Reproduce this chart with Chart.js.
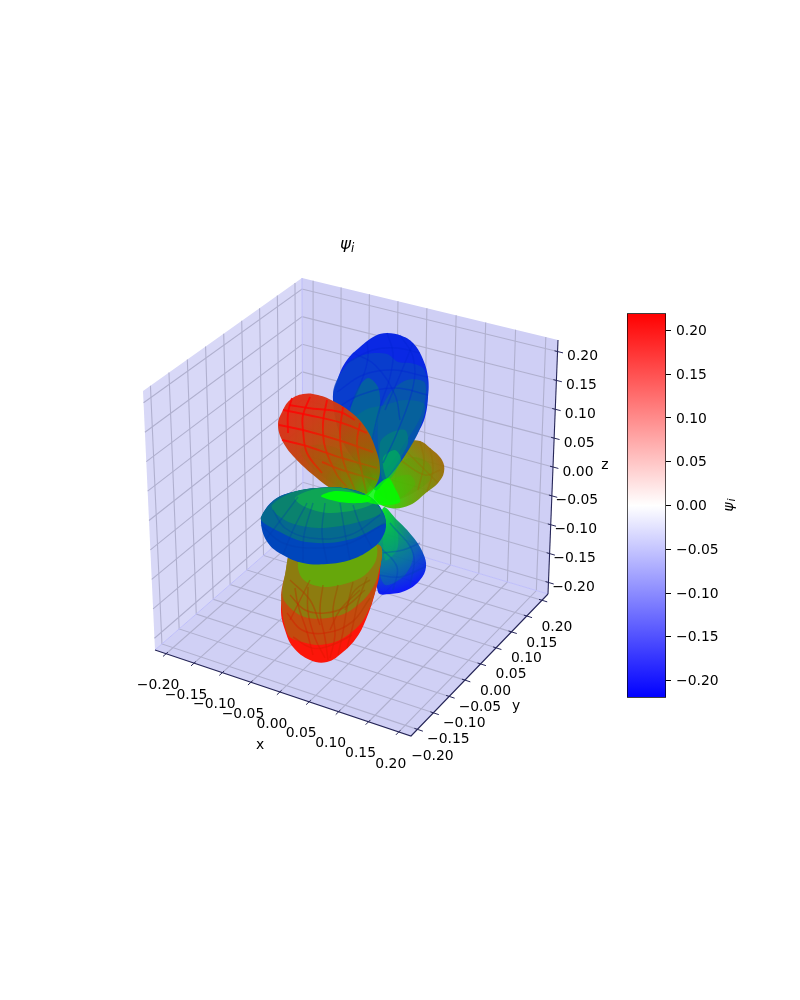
<!DOCTYPE html>
<html>
<head>
<meta charset="utf-8">
<title>psi</title>
<script src="https://cdn.jsdelivr.net/npm/chart.js@4"></script>
<style>
    html, body { margin: 0; padding: 0; background: #fff; }
    #wrap { position: relative; width: 800px; height: 1000px; overflow: hidden; }
    #plot { position: absolute; left: 0; top: 0; }
    #cbar { position: absolute; left: 627px; top: 300px; }
</style>
</head>
<body>
<div id="wrap">
    <canvas id="plot" width="800" height="1000"></canvas>
    <canvas id="cbar" width="120" height="411"></canvas>
</div>
<script>
// ticks of the three axes and of the colorbar
const xTicks = [-0.2, -0.15, -0.1, -0.05, 0, 0.05, 0.1, 0.15, 0.2];
const yTicks = [-0.2, -0.15, -0.1, -0.05, 0, 0.05, 0.1, 0.15, 0.2];
const zTicks = [-0.2, -0.15, -0.1, -0.05, 0, 0.05, 0.1, 0.15, 0.2];
const cbarTicks = [-0.2, -0.15, -0.1, -0.05, 0, 0.05, 0.1, 0.15, 0.2];
const axisLimit = 0.22;
const cbarLimit = 0.2194;

// lobe outlines (figure plane, 800 x 1000)
const blueTopOutline = [[375,490],[358,465],[342,440],[333,400],[338,378],[347,360],[360,347],[375,336],[387,333],[402,336],[413,343],[422,357],[428,377],[428,397],[425,417],[418,433],[410,447],[397,467],[383,483],[375,490]];
const blueTopBands = [
    [[333,393],[348,363],[367,354],[387,354],[398,362],[410,363],[423,368],[428,385],[427,403],[420,427],[405,455],[383,483],[375,490],[345,440],[333,393]],
    [[345,430],[365,410],[385,405],[405,400],[425,405],[418,433],[405,455],[383,483],[375,490],[358,465],[345,430]],
    [[350,417],[357,390],[368,378],[378,387],[380,407],[373,440],[365,470],[350,417]],
    [[378,420],[390,393],[407,380],[425,383],[422,413],[407,440],[383,470],[378,420]],
    [[380,443],[390,433],[405,430],[408,443],[397,463],[383,480],[380,443]],
    [[383,458],[395,450],[401,460],[388,480],[383,458]]
];
const blueTopMesh = [
    [[337,392],[363,375],[393,370],[427,377]],
    [[347,363],[373,350],[397,348],[420,353]],
    [[334,410],[360,395],[395,388],[428,395]],
    [[387,333],[393,353],[390,377],[380,407],[372,440]],
    [[400,335],[413,357],[413,387],[397,433],[383,463]],
    [[367,342],[368,357],[363,377],[350,407]],
    [[353,353],[375,365],[395,395],[400,420]],
    [[413,343],[400,375],[385,410]]
];

const oliveOutline = [[375,492],[395,455],[408,442],[420,441],[430,448],[442,460],[444,472],[438,483],[427,492],[410,505],[390,508],[375,500],[375,492]];
const oliveBands = [
    [[375,492],[395,465],[415,457],[430,465],[430,480],[405,497],[380,503],[375,492]],
    [[378,493],[395,478],[410,475],[415,485],[395,500],[378,493]]
];
const oliveMesh = [
    [[420,441],[424,462],[418,490]],
    [[430,448],[433,470],[427,492]],
    [[405,450],[438,483]],
    [[400,460],[425,475],[440,470]]
];

const redTopOutline = [[278,425],[282,412],[290,400],[303,394],[318,395],[335,402],[352,413],[365,427],[375,447],[380,470],[375,487],[365,497],[352,497],[332,489],[312,474],[295,458],[283,442],[278,425]];
const redTopBands = [
    [[300,450],[325,445],[350,455],[372,475],[365,492],[340,487],[315,470],[300,450]]
];
const redTopMesh = [
    [[289,405],[308,408],[340,412],[355,420]],
    [[283,410],[308,415],[342,423],[367,433]],
    [[279,425],[303,430],[338,440],[373,452]],
    [[282,440],[303,445],[342,458],[377,468]],
    [[322,462],[342,470],[377,480]],
    [[292,398],[288,413],[288,433]],
    [[310,397],[303,415],[303,430],[307,453],[322,473]],
    [[327,400],[323,423],[325,447],[337,475],[347,487]],
    [[343,407],[340,433],[343,460],[355,490]],
    [[360,423],[357,443],[362,473],[367,495]]
];

const blueLowOutline = [[383,508],[397,520],[413,537],[423,553],[426,567],[420,580],[407,590],[390,594],[378,592],[377,547],[383,508]];
const blueLowBands = [
    [[383,520],[400,530],[413,555],[405,575],[385,585],[378,560],[383,520]],
    [[385,510],[397,530],[397,550],[385,560],[385,510]]
];
const blueLowMesh = [
    [[380,547],[397,567],[393,590]],
    [[390,523],[413,553],[410,587]],
    [[383,553],[403,550],[420,543]],
    [[378,575],[400,577],[425,567]]
];

const redLowOutline = [[378,548],[380,570],[375,593],[367,617],[357,637],[343,652],[327,662],[310,660],[293,647],[285,630],[281,610],[285,583],[292,562],[330,540],[378,548]];
const redLowBands = [
    [[285,575],[281,598],[288,635],[302,642],[318,645],[335,642],[348,635],[362,622],[372,602],[378,578],[379,545],[295,545],[285,575]],
    [[285,575],[283,598],[295,612],[308,618],[328,618],[348,612],[368,595],[378,575],[379,545],[295,545],[285,575]],
    [[298,562],[300,575],[308,583],[325,587],[348,583],[365,575],[376,560],[375,545],[305,545],[298,562]]
];
const redLowMesh = [
    [[295,588],[298,605],[307,632],[313,655]],
    [[308,587],[308,612],[315,638],[325,658]],
    [[323,585],[320,612],[325,638],[328,660]],
    [[338,585],[333,610],[335,635],[330,658]],
    [[353,582],[347,608],[343,632],[338,655]],
    [[367,577],[358,602],[353,625],[347,648]],
    [[290,595],[305,610],[325,613],[345,607],[365,590]],
    [[287,613],[302,630],[325,633],[352,622],[370,598]],
    [[293,637],[312,648],[332,645],[352,635]],
    [[290,580],[310,600],[320,625]],
    [[360,590],[340,610],[330,630]],
    [[310,580],[300,600],[290,620]],
    [[370,580],[355,590],[345,610]]
];

const diskOutline = [[261,523],[265,510],[277,498],[293,492],[317,488],[343,488],[367,495],[380,507],[386,523],[382,538],[370,550],[350,560],[327,564],[303,563],[283,555],[268,543],[261,523]];
const diskBands = [
    [[261,520],[278,531],[301,541],[328,543],[355,538],[381,525],[386,523],[380,507],[367,495],[343,488],[317,488],[293,492],[277,498],[265,510],[261,520]],
    [[272,505],[275,513],[291,523],[318,528],[351,524],[381,513],[375,502],[367,495],[343,488],[317,488],[293,492],[272,505]],
    [[295,498],[305,507],[328,513],[355,510],[373,503],[361,495],[341,488],[315,489],[295,498]],
    [[321,496],[331,500],[348,503],[368,502],[371,498],[355,493],[335,491],[321,496]]
];
const diskMesh = [
    [[261,525],[283,543],[317,548],[350,543],[385,523]],
    [[273,510],[285,528],[310,538],[350,535],[380,515]],
    [[283,555],[293,530],[307,503]],
    [[303,562],[304,535],[313,503]],
    [[327,563],[322,533],[325,503]],
    [[350,560],[345,533],[340,503]],
    [[372,548],[360,525],[353,505]],
    [[267,538],[283,517],[298,497]]
];

const centerGlow = [[362,498],[372,490],[388,478],[395,488],[400,502],[385,505],[370,503],[362,498]];

// where the corners of the 3d box sit in the figure, [x index][y index][z index]
const boxCorners = [
    [[[155,650], [143,391]], [[303,521], [302,278]]],
    [[[411,736], [425,470]], [[548,594], [558,340]]]
];
// foreshortening along each axis
const warpX = 1.05;
const warpY = 0.97;
const warpZ = 1;

const L = axisLimit;

function warp(v, q) {
    const s = (v + L) / (2 * L);
    return s / (s + q * (1 - s));
}

function project(x, y, z) {
    const s = warp(x, warpX);
    const t = warp(y, warpY);
    const r = warp(z, warpZ);
    const out = { x: 0, y: 0 };
    [0, 1].forEach(i => [0, 1].forEach(j => [0, 1].forEach(k => {
        const f = (i ? s : 1 - s) * (j ? t : 1 - t) * (k ? r : 1 - r);
        out.x += f * boxCorners[i][j][k][0];
        out.y += f * boxCorners[i][j][k][1];
    })));
    return out;
}

const datasets = [];

function addLine(points, color, width, tension) {
    datasets.push({
        data: points, showLine: true, pointRadius: 0, borderColor: color,
        borderWidth: width, fill: false, tension: tension || 0, clip: false
    });
}

function addShape(points, color, tension) {
    datasets.push({
        data: points, showLine: true, pointRadius: 0, borderWidth: 0, borderColor: 'transparent',
        backgroundColor: color, fill: 'shape', tension: tension, clip: false
    });
}

const toXY = pts => pts.map(p => ({ x: p[0], y: p[1] }));
// run a loop past its ends so the curve has no corner at the seam
const closed = pts => toXY([pts[pts.length - 2], ...pts, pts[1]]);

const plotCanvas = document.getElementById('plot');
const plotCtx = plotCanvas.getContext('2d');

function radial(cx, cy, r, stops, alpha) {
    const g = plotCtx.createRadialGradient(cx, cy, 0, cx, cy, r);
    stops.forEach((s, i) => g.addColorStop(i / (stops.length - 1), `rgba(${s[0]},${s[1]},${s[2]},${alpha})`));
    return g;
}

function addLobe(outline, fillColor, bands, bandColors, mesh, meshColor, meshWidth) {
    addShape(closed(outline), fillColor, 0.4);
    bands.forEach((s, i) => addShape(closed(s), bandColors[i], 0.3));
    mesh.forEach(m => addLine(toXY(m), meshColor, meshWidth, 0.4));
}

// panes
addShape([project(-L,-L,-L), project(-L,L,-L), project(-L,L,L), project(-L,-L,L)], 'rgb(216,216,247)', 0);
addShape([project(-L,L,-L), project(L,L,-L), project(L,L,L), project(-L,L,L)], 'rgb(207,207,245)', 0);
addShape([project(-L,-L,-L), project(L,-L,-L), project(L,L,-L), project(-L,L,-L)], 'rgb(208,208,245)', 0);

// grid on the panes
const gridColor = 'rgb(176,176,207)';
xTicks.forEach(t => {
    addLine([project(t,-L,-L), project(t,L,-L), project(t,L,L)], gridColor, 1.1);
});
yTicks.forEach(t => {
    addLine([project(L,t,-L), project(-L,t,-L), project(-L,t,L)], gridColor, 1.1);
});
zTicks.forEach(t => {
    addLine([project(-L,-L,t), project(-L,L,t), project(L,L,t)], gridColor, 1.1);
});

// pane seams
const seam = 'rgb(190,190,250)';
addLine([project(-L,-L,-L), project(-L,L,-L), project(L,L,-L)], seam, 1);
addLine([project(-L,L,-L), project(-L,L,L)], seam, 1);

// lobes, back to front
addLobe(oliveOutline,
    radial(372, 497, 150, [[0,255,0],[90,170,0],[150,110,0],[215,50,0],[255,5,0]], 0.93),
    oliveBands, ['rgba(90,160,0,0.3)', 'rgba(60,200,0,0.3)'],
    oliveMesh, 'rgba(150,110,0,0.4)', 1.5);
addLobe(blueLowOutline,
    radial(375, 510, 86, [[0,255,0],[0,150,100],[0,85,180],[0,10,250]], 0.93),
    blueLowBands, ['rgba(0,190,80,0.22)', 'rgba(0,210,70,0.3)'],
    blueLowMesh, 'rgba(0,60,190,0.35)', 1.5);
addLobe(blueTopOutline, 'rgb(10,40,228)',
    blueTopBands, ['rgba(8,70,195,0.7)', 'rgba(5,100,150,0.6)', 'rgba(0,130,120,0.5)', 'rgba(5,110,140,0.5)', 'rgba(0,140,110,0.5)', 'rgba(0,190,80,0.55)'],
    blueTopMesh, 'rgba(0,35,210,0.35)', 1.4);
addLobe(redLowOutline, 'rgb(252,22,10)',
    redLowBands, ['rgba(190,80,15,0.92)', 'rgba(135,130,15,0.9)', 'rgba(95,175,10,0.85)'],
    redLowMesh, radial(345, 540, 125, [[80,140,0],[125,105,0],[165,70,0],[205,35,0],[235,15,0]], 0.5), 1.6);
addLobe(redTopOutline, radial(372, 497, 128, [[40,200,0],[120,130,0],[165,90,5],[190,70,12],[208,55,20],[228,40,20]], 0.97),
    redTopBands, ['rgba(130,110,0,0.15)'],
    redTopMesh, radial(372, 497, 128, [[100,150,0],[170,90,0],[225,40,0],[255,5,0],[255,0,0]], 0.8), 1.9);
addLobe(diskOutline, 'rgb(0,70,188)',
    diskBands, ['rgb(5,105,142)', 'rgb(10,130,110)', 'rgb(15,165,85)', 'rgb(0,250,10)'],
    diskMesh, 'rgba(0,60,175,0.32)', 1.5);
addShape(closed(centerGlow), 'rgba(0,255,0,0.8)', 0.3);

// axis edges and ticks
const edgeColor = 'rgb(38,38,88)';
addLine([project(-L,-L,-L), project(L,-L,-L), project(L,L,-L)], edgeColor, 1.1);
addLine([project(L,L,-L), project(L,L,L)], edgeColor, 1.1);
xTicks.forEach(t => addLine([project(t,-L + 0.005,-L), project(t,-L - 0.009,-L)], edgeColor, 1));
yTicks.forEach(t => addLine([project(L - 0.005,t,-L), project(L + 0.009,t,-L)], edgeColor, 1));
zTicks.forEach(t => addLine([project(L - 0.005,L,t), project(L + 0.009,L,t)], edgeColor, 1));

// Chart.js paints the first dataset last
datasets.reverse();

function fmt(v) {
    return (v < 0 ? '\u2212' : '') + Math.abs(v).toFixed(2);
}

const textPlugin = {
    id: 'boxText',
    afterDraw(chart) {
        const c = chart.ctx;
        const sx = chart.scales.x;
        const sy = chart.scales.y;
        c.save();
        c.fillStyle = '#000';
        c.textAlign = 'center';
        c.textBaseline = 'middle';
        c.font = '13.9px "DejaVu Sans"';
        const put = (txt, p, dx, dy) => c.fillText(txt, sx.getPixelForValue(p.x) + dx, sy.getPixelForValue(p.y) + dy);
        xTicks.forEach(t => put(fmt(t), project(t, -L, -L), -8, 32));
        yTicks.forEach(t => put(fmt(t), project(L, t, -L), 15, 27));
        zTicks.forEach(t => put(fmt(t), project(L, L, t), 25, 5));
        put('x', { x: 260, y: 745 }, 0, 0);
        put('y', { x: 516, y: 706 }, 0, 0);
        put('z', { x: 605, y: 465 }, 0, 0);

        // title
        c.textAlign = 'left';
        c.font = 'italic 16.7px "DejaVu Sans"';
        c.fillText('\u03c8', sx.getPixelForValue(340), sy.getPixelForValue(245));
        c.font = 'italic 11.7px "DejaVu Sans"';
        c.fillText('i', sx.getPixelForValue(351), sy.getPixelForValue(249));

        // colorbar label
        c.translate(sx.getPixelForValue(729), sy.getPixelForValue(505));
        c.rotate(-Math.PI / 2);
        c.textAlign = 'center';
        c.font = 'italic 13.9px "DejaVu Sans"';
        c.fillText('\u03c8', -2, 0);
        c.font = 'italic 9.7px "DejaVu Sans"';
        c.fillText('i', 5, 3);
        c.restore();
    }
};

new Chart(plotCtx, {
    type: 'scatter',
    data: { datasets: datasets },
    plugins: [textPlugin],
    options: {
        responsive: false,
        animation: false,
        layout: { padding: 0 },
        plugins: { legend: { display: false }, tooltip: { enabled: false } },
        scales: {
            x: { type: 'linear', min: 0, max: 800, display: false },
            y: { type: 'linear', min: 0, max: 1000, reverse: true, display: false }
        }
    }
});

// colorbar
const cbarCanvas = document.getElementById('cbar');
const cbarCtx = cbarCanvas.getContext('2d');
const cbarFill = cbarCtx.createLinearGradient(0, 398, 0, 13);
cbarFill.addColorStop(0, 'rgb(0,0,255)');
cbarFill.addColorStop(0.5, 'rgb(255,255,255)');
cbarFill.addColorStop(1, 'rgb(255,0,0)');

new Chart(cbarCtx, {
    type: 'bar',
    data: {
        labels: ['psi'],
        datasets: [{
            data: [[-cbarLimit, cbarLimit]],
            backgroundColor: cbarFill,
            borderColor: '#000',
            borderWidth: 1,
            borderSkipped: false,
            barPercentage: 1,
            categoryPercentage: 1
        }]
    },
    options: {
        responsive: false,
        animation: false,
        layout: { padding: { top: 13, bottom: 13, left: 0, right: 0 } },
        plugins: { legend: { display: false }, tooltip: { enabled: false } },
        scales: {
            x: { display: false },
            y: {
                position: 'right',
                min: -cbarLimit,
                max: cbarLimit,
                afterBuildTicks: axis => { axis.ticks = cbarTicks.map(v => ({ value: v })); },
                afterFit: axis => { axis.width = 81; },
                grid: { drawOnChartArea: false, drawTicks: true, tickLength: 5, color: '#000' },
                border: { display: false },
                ticks: {
                    color: '#000', padding: 5, autoSkip: false, maxRotation: 0, labelOffset: 1,
                    font: { family: 'DejaVu Sans', size: 13.9 },
                    callback: v => fmt(v)
                }
            }
        }
    }
});
</script>
</body>
</html>
